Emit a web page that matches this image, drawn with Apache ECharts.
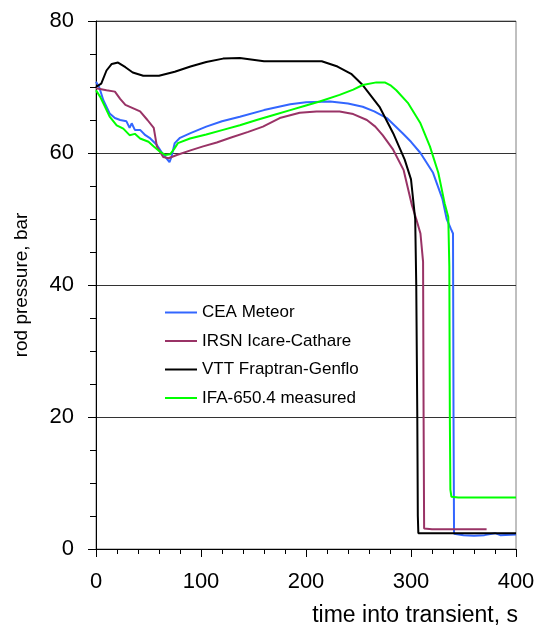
<!DOCTYPE html>
<html>
<head>
<meta charset="utf-8">
<script src="https://cdn.jsdelivr.net/npm/echarts@6/dist/echarts.min.js"></script>
<style>
  html, body { margin: 0; padding: 0; background: #fff; }
  #rodChart { width: 538px; height: 629px; }
</style>
</head>
<body>
<div id="rodChart"></div>
<script>
  // [time s, pressure bar]
  const ceaMeteor = [
    [0,70.8],[3,70],[7,68],[13,66],[18,65.3],[23,65],[29,64.8],[32,63.8],[34,64.5],[37,63.5],
    [42,63.5],[47,62.7],[51,62.3],[58,61.2],[63,60],[66,59.4],[70,58.6],[72,59.5],[75,61.5],[80,62.3],
    [90,63],[105,64],[120,64.8],[137,65.5],[160,66.5],[185,67.4],[200,67.7],[223,67.8],[240,67.5],[254,67],
    [265,66.3],[277,65.3],[292,63],[300,61.7],[309,60],[321,57],[330,53],[334,50],[338,48.5],[340,47.8],
    [340.5,20],[341,2.3],[350,2.1],[360,2.0],[370,2.1],[380,2.4],[385,2.1],[400,2.2]
  ]
  const irsnIcare = [
    [0,69.8],[10,69.5],[18,69.3],[23,68.2],[28,67.3],[35,66.8],[42,66.3],[49,65],[55,63.8],[58,61],
    [64,59.4],[69,59.2],[77,59.7],[90,60.4],[102,61],[115,61.6],[128,62.3],[145,63.2],[159,64],[175,65.3],
    [194,66.1],[210,66.3],[232,66.3],[245,65.9],[258,65],[266,64],[273,62.7],[283,60.5],[293,57.4],[301,52],
    [305,50],[309,47.8],[311.5,43.5],[312,20],[312.5,3.1],[320,3.0],[372,3.0]
  ]
  const vttFraptran = [
    [0,70],[5,70.5],[10,72.5],[15,73.5],[21,73.7],[28,73],[35,72.2],[45,71.7],[60,71.7],[75,72.3],
    [90,73.1],[105,73.8],[121,74.3],[137,74.4],[160,73.9],[215,73.9],[230,73.1],[243,72],[254,70.3],[270,67],
    [283,63],[294,59],[300,56],[304,50],[305,40],[306,20],[306.5,5],[307,2.4],[400,2.4]
  ]
  const ifaMeasured = [
    [0,69.5],[4,68.5],[8.6,67],[13,65.5],[19.7,64.2],[26,63.7],[32,62.7],[37,62.9],[42,62.2],[50,61.7],
    [55,61],[61,60.2],[66,59.7],[70.5,59.8],[74,60.5],[78,61.5],[89.5,62.2],[105,62.8],[121,63.5],[137,64.2],
    [153,65],[170,65.8],[185,66.5],[200,67.2],[213,67.8],[232,68.8],[245,69.6],[254,70.3],[267,70.7],[275,70.7],
    [281,70.2],[286,69.5],[297,67.6],[309,64.5],[318,61],[326,57],[332,52.4],[335.5,50.3],[336.5,42.8],[337,20],
    [337.5,9],[338.5,7.9],[345,7.8],[400,7.8]
  ]
  const seriesNames = ['CEA Meteor', 'IRSN Icare-Cathare', 'VTT Fraptran-Genflo', 'IFA-650.4 measured']
  const seriesColors = ['#3366ff', '#993366', '#000000', '#00ff00']
  const seriesData = [ceaMeteor, irsnIcare, vttFraptran, ifaMeasured]

  const font = 'Liberation Sans, Arial, sans-serif'
  const mychart = echarts.init(document.getElementById('rodChart'))

  const option = {
    animation: false,
    grid: {
      left: 96, right: 22, top: 21, bottom: 80,
      show: true, borderColor: '#808080', borderWidth: 1
    },
    xAxis: {
      type: 'value',
      min: 0, max: 400, interval: 100,
      axisLine: { lineStyle: { color: '#000', width: 1 } },
      axisTick: { show: true, inside: false, length: 8, lineStyle: { color: '#000' } },
      minorTick: { show: true, splitNumber: 5, length: 5, lineStyle: { color: '#000' } },
      splitLine: { show: false },
      axisLabel: { color: '#000', fontFamily: font, fontSize: 22, margin: 22 }
    },
    yAxis: {
      type: 'value',
      min: 0, max: 80, interval: 20,
      axisLine: { show: true, lineStyle: { color: '#000', width: 1 } },
      axisTick: { show: true, inside: false, length: 8, lineStyle: { color: '#000' } },
      minorTick: { show: true, splitNumber: 4, length: 6, lineStyle: { color: '#000' } },
      splitLine: { show: true, lineStyle: { color: '#333', width: 1 } },
      axisLabel: { color: '#000', fontFamily: font, fontSize: 22, margin: 22 }
    },
    legend: {
      orient: 'vertical',
      left: 160, top: 299,
      icon: 'rect',
      itemWidth: 32, itemHeight: 2, itemGap: 11.5,
      data: seriesNames,
      textStyle: { color: '#000', fontFamily: font, fontSize: 17 }
    },
    graphic: [
      {
        type: 'text',
        x: 22, y: 285,
        rotation: Math.PI / 2,
        style: {
          text: 'rod pressure, bar',
          fill: '#000', font: '19px ' + font,
          align: 'center', verticalAlign: 'middle'
        }
      },
      {
        type: 'text',
        x: 518, y: 627,
        style: {
          text: 'time into transient, s',
          fill: '#000', font: '23px ' + font,
          align: 'right', verticalAlign: 'bottom'
        }
      }
    ],
    series: seriesNames.map((name, i) => {
      return {
        name: name,
        type: 'line',
        data: seriesData[i],
        symbol: 'none',
        lineStyle: { color: seriesColors[i], width: 2 },
        itemStyle: { color: seriesColors[i] },
        z: i === 3 ? 3 : 2
      }
    })
  }
  mychart.setOption(option)
</script>
</body>
</html>
